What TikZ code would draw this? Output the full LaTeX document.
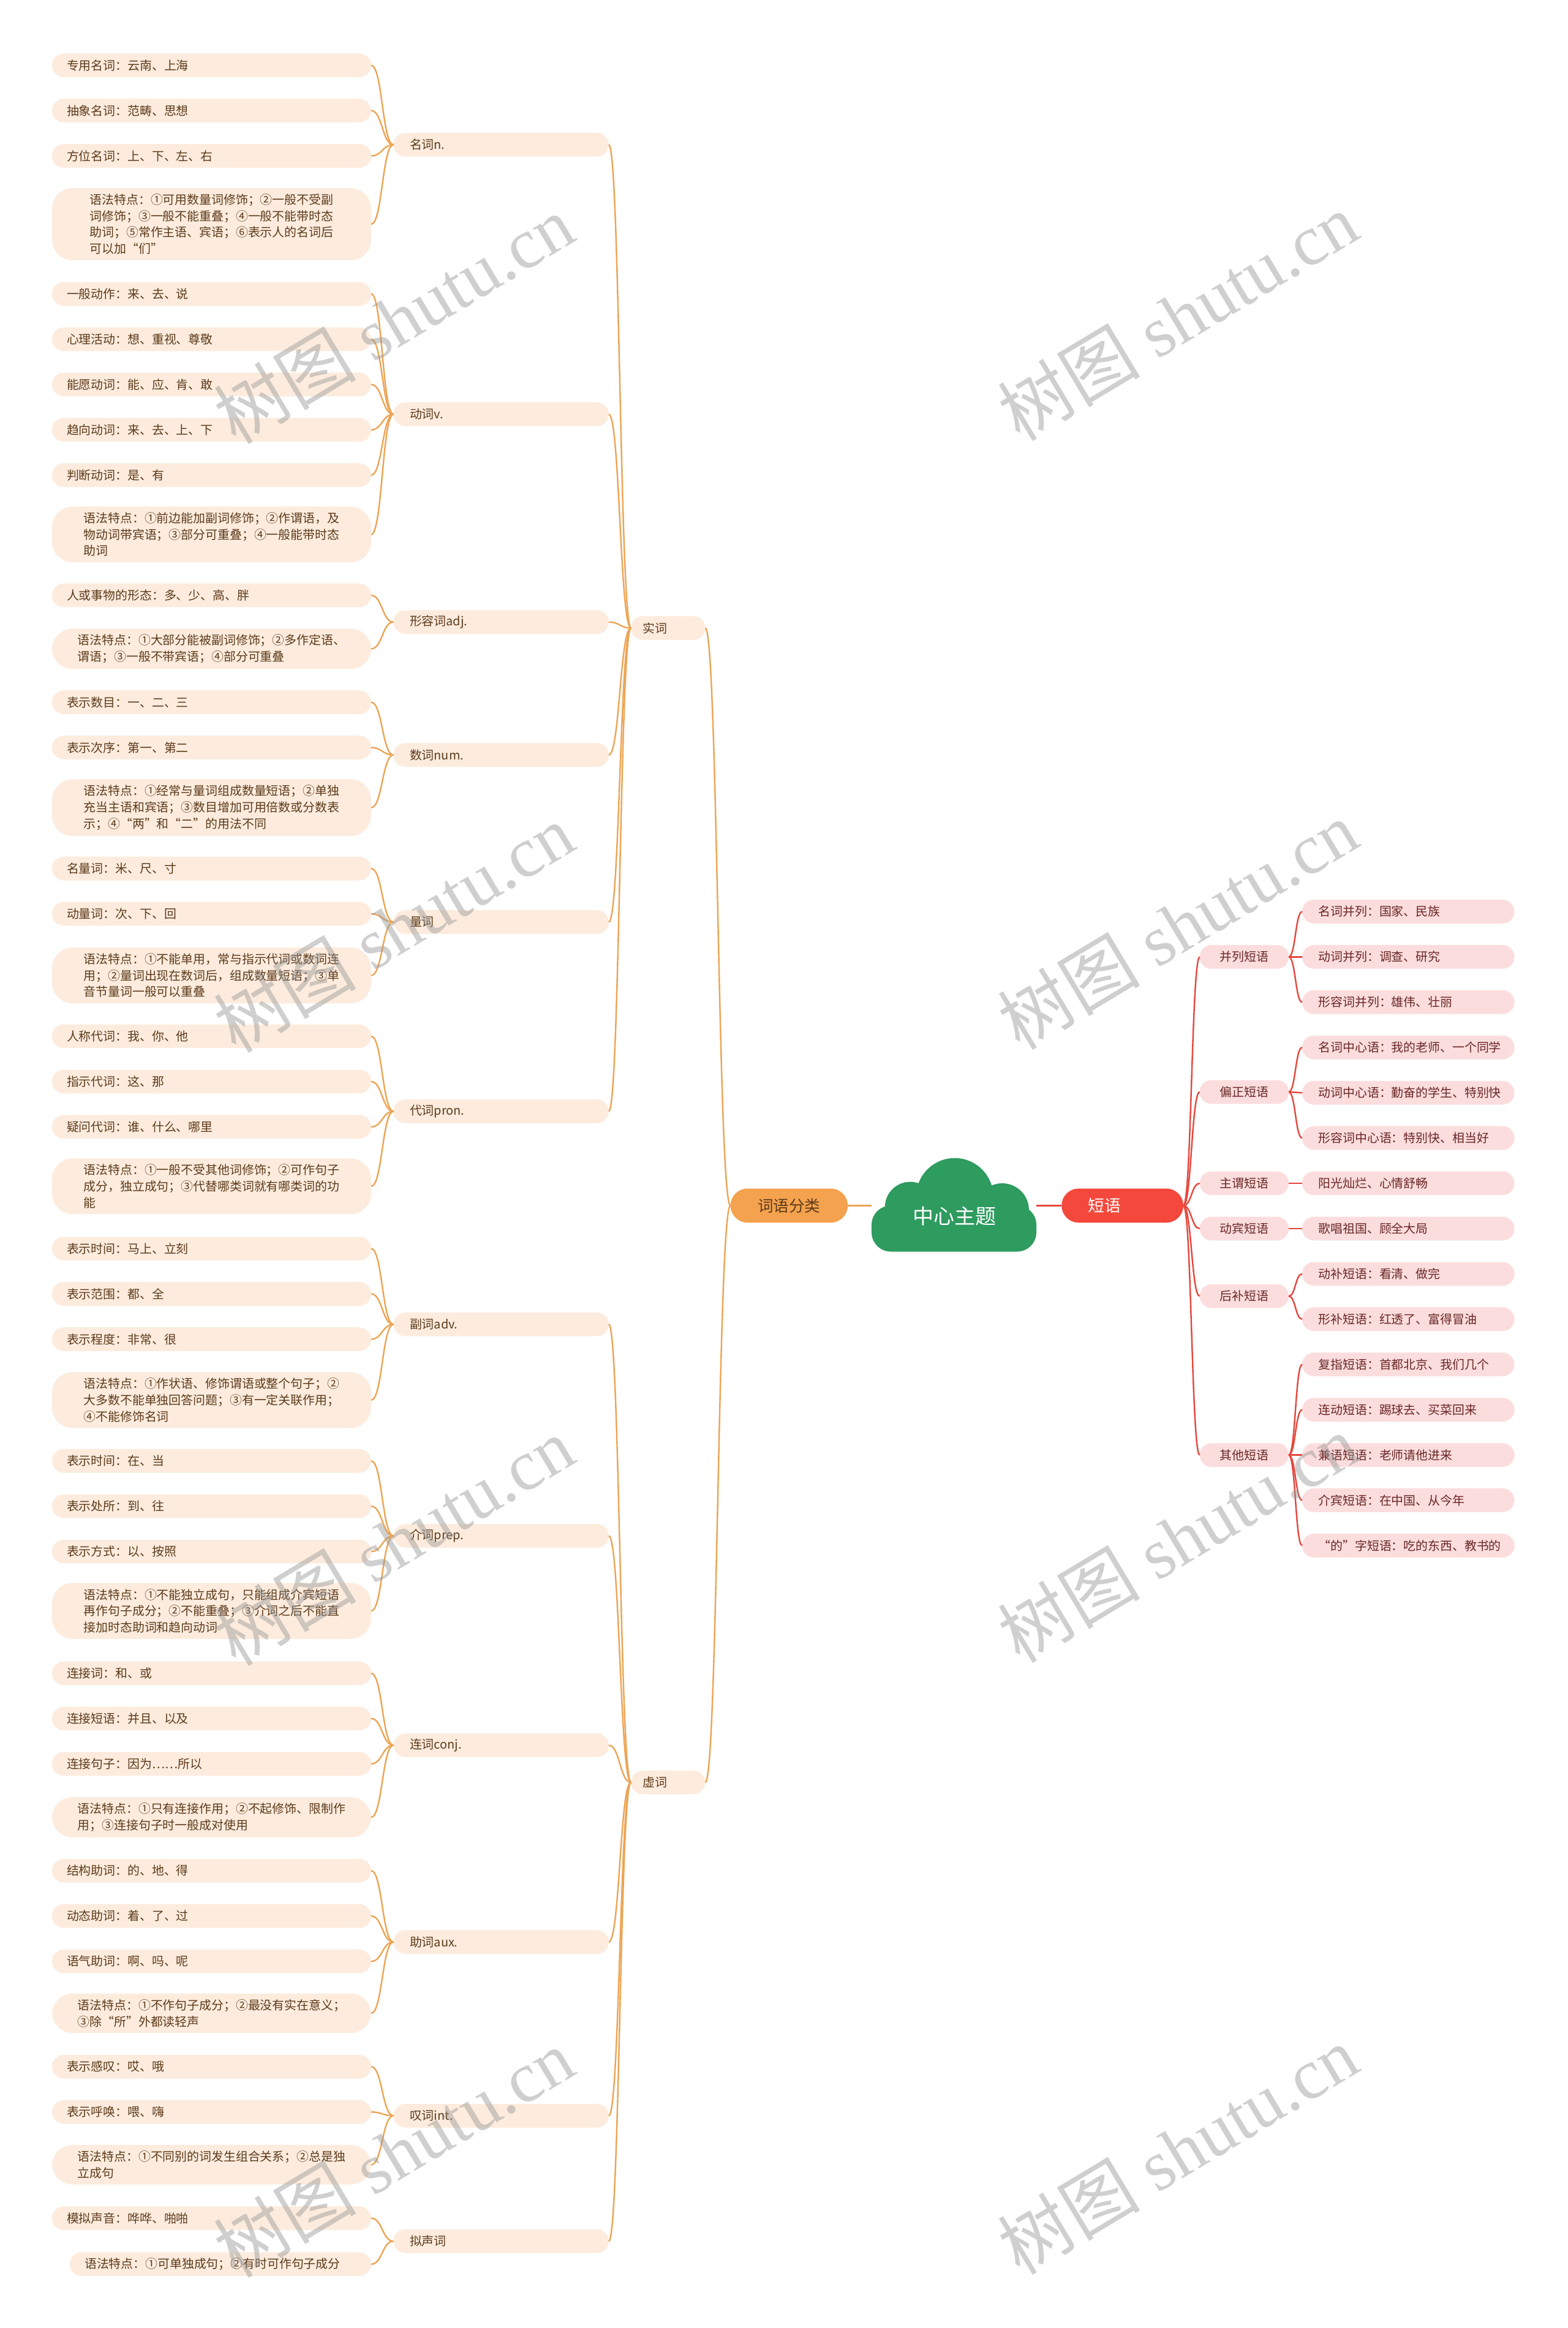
\documentclass[tikz,border=0pt]{standalone}
\usepackage{fontspec}
\setmainfont{Liberation Serif}
\newfontfamily\cjk{Noto Sans CJK SC}
\definecolor{peachF}{RGB}{253,236,222}
\definecolor{brownT}{RGB}{92,58,26}
\definecolor{orangeL}{RGB}{236,165,85}
\definecolor{orangeN}{RGB}{244,162,78}
\definecolor{greenC}{RGB}{46,155,95}
\definecolor{redN}{RGB}{244,72,60}
\definecolor{redL}{RGB}{228,72,62}
\definecolor{pinkF}{RGB}{252,221,221}
\definecolor{redT}{RGB}{105,38,38}
\definecolor{wmgray}{RGB}{150,150,150}
\begin{document}
\begin{tikzpicture}[x=1pt,y=-1pt,
  base/.style={font=\cjk\fontsize{8.2}{11}\selectfont, inner ysep=0pt, outer sep=0pt},
  leafL/.style={base, fill=peachF, text=brownT, rounded corners=8pt, minimum height=16pt, inner xsep=10pt, text width=195pt, align=left},
  leafML/.style={base, fill=peachF, text=brownT, rounded corners=14pt, minimum width=215pt, inner ysep=4pt, align=left},
  midL/.style={base, fill=peachF, text=brownT, rounded corners=8pt, minimum height=16pt, inner xsep=11pt, text width=123pt, align=left},
  topL/.style={base, fill=peachF, text=brownT, rounded corners=8pt, minimum height=16pt, inner xsep=8pt, text width=34pt, align=left},
  midR/.style={base, fill=pinkF, text=redT, rounded corners=8pt, minimum height=16pt, minimum width=60pt, inner xsep=0pt, align=center},
  leafR/.style={base, fill=pinkF, text=redT, rounded corners=8pt, minimum height=16pt, inner xsep=11pt, text width=121pt, align=left},
  lc/.style={draw=orangeL, line width=1pt},
  rc/.style={draw=redL, line width=1pt},
  wm/.style={rotate=31, text=wmgray, opacity=0.45, font=\fontsize{48}{54}\selectfont, inner sep=0pt}
]
\useasboundingbox (0,0) rectangle (1056,1568);
\fill[white] (0,0) rectangle (1056,1568);

% ---------------- left: 实词 ----------------
\node[leafL] (g1a) at (142.5,44) {专用名词：云南、上海};
\node[leafL] (g1b) at (142.5,74.5) {抽象名词：范畴、思想};
\node[leafL] (g1c) at (142.5,105) {方位名词：上、下、左、右};
\node[leafML] (g1d) at (142.5,151) {语法特点：①可用数量词修饰；②一般不受副\\词修饰；③一般不能重叠；④一般不能带时态\\助词；⑤常作主语、宾语；⑥表示人的名词后\\可以加“们”};
\node[midL] (g1) at (337.5,97.5) {名词n.};

\node[leafL] (g2a) at (142.5,198) {一般动作：来、去、说};
\node[leafL] (g2b) at (142.5,228.5) {心理活动：想、重视、尊敬};
\node[leafL] (g2c) at (142.5,259) {能愿动词：能、应、肯、敢};
\node[leafL] (g2d) at (142.5,289.5) {趋向动词：来、去、上、下};
\node[leafL] (g2e) at (142.5,320) {判断动词：是、有};
\node[leafML] (g2f) at (142.5,360) {语法特点：①前边能加副词修饰；②作谓语，及\\物动词带宾语；③部分可重叠；④一般能带时态\\助词};
\node[midL] (g2) at (337.5,279) {动词v.};

\node[leafL] (g3a) at (142.5,401) {人或事物的形态：多、少、高、胖};
\node[leafML] (g3b) at (142.5,437) {语法特点：①大部分能被副词修饰；②多作定语、\\谓语；③一般不带宾语；④部分可重叠};
\node[midL] (g3) at (337.5,419) {形容词adj.};

\node[leafL] (g4a) at (142.5,473) {表示数目：一、二、三};
\node[leafL] (g4b) at (142.5,503.5) {表示次序：第一、第二};
\node[leafML] (g4c) at (142.5,544) {语法特点：①经常与量词组成数量短语；②单独\\充当主语和宾语；③数目增加可用倍数或分数表\\示；④“两”和“二”的用法不同};
\node[midL] (g4) at (337.5,508.5) {数词num.};

\node[leafL] (g5a) at (142.5,585) {名量词：米、尺、寸};
\node[leafL] (g5b) at (142.5,615.5) {动量词：次、下、回};
\node[leafML] (g5c) at (142.5,657) {语法特点：①不能单用，常与指示代词或数词连\\用；②量词出现在数词后，组成数量短语；③单\\音节量词一般可以重叠};
\node[midL] (g5) at (337.5,621) {量词};

\node[leafL] (g6a) at (142.5,698) {人称代词：我、你、他};
\node[leafL] (g6b) at (142.5,728.5) {指示代词：这、那};
\node[leafL] (g6c) at (142.5,759) {疑问代词：谁、什么、哪里};
\node[leafML] (g6d) at (142.5,799) {语法特点：①一般不受其他词修饰；②可作句子\\成分，独立成句；③代替哪类词就有哪类词的功\\能};
\node[midL] (g6) at (337.5,748.5) {代词pron.};

\node[topL] (sc) at (450,423) {实词};

% ---------------- left: 虚词 ----------------
\node[leafL] (g7a) at (142.5,841) {表示时间：马上、立刻};
\node[leafL] (g7b) at (142.5,871.5) {表示范围：都、全};
\node[leafL] (g7c) at (142.5,902) {表示程度：非常、很};
\node[leafML] (g7d) at (142.5,943) {语法特点：①作状语、修饰谓语或整个句子；②\\大多数不能单独回答问题；③有一定关联作用；\\④不能修饰名词};
\node[midL] (g7) at (337.5,892) {副词adv.};

\node[leafL] (g8a) at (142.5,984) {表示时间：在、当};
\node[leafL] (g8b) at (142.5,1014.5) {表示处所：到、往};
\node[leafL] (g8c) at (142.5,1045) {表示方式：以、按照};
\node[leafML] (g8d) at (142.5,1085) {语法特点：①不能独立成句，只能组成介宾短语\\再作句子成分；②不能重叠；③介词之后不能直\\接加时态助词和趋向动词};
\node[midL] (g8) at (337.5,1034.5) {介词prep.};

\node[leafL] (g9a) at (142.5,1127) {连接词：和、或};
\node[leafL] (g9b) at (142.5,1157.5) {连接短语：并且、以及};
\node[leafL] (g9c) at (142.5,1188) {连接句子：因为……所以};
\node[leafML] (g9d) at (142.5,1224) {语法特点：①只有连接作用；②不起修饰、限制作\\用；③连接句子时一般成对使用};
\node[midL] (g9) at (337.5,1175.5) {连词conj.};

\node[leafL] (g10a) at (142.5,1260) {结构助词：的、地、得};
\node[leafL] (g10b) at (142.5,1290.5) {动态助词：着、了、过};
\node[leafL] (g10c) at (142.5,1321) {语气助词：啊、吗、呢};
\node[leafML] (g10d) at (142.5,1356) {语法特点：①不作句子成分；②最没有实在意义；\\③除“所”外都读轻声};
\node[midL] (g10) at (337.5,1308) {助词aux.};

\node[leafL] (g11a) at (142.5,1392) {表示感叹：哎、哦};
\node[leafL] (g11b) at (142.5,1422.5) {表示呼唤：喂、嗨};
\node[leafML] (g11c) at (142.5,1458) {语法特点：①不同别的词发生组合关系；②总是独\\立成句};
\node[midL] (g11) at (337.5,1425) {叹词int.};

\node[leafL] (g12a) at (142.5,1494) {模拟声音：哗哗、啪啪};
\node[leafL, text width=183pt] (g12b) at (148.5,1525) {语法特点：①可单独成句；②有时可作句子成分};
\node[midL] (g12) at (337.5,1509.5) {拟声词};

\node[topL] (xc) at (450,1200.5) {虚词};

% ---------------- center ----------------
\node[base, fill=orangeN, text=brownT, rounded corners=11.5pt, minimum width=79pt, minimum height=23pt, font=\cjk\fontsize{10.5}{12}\selectfont] (wf) at (531.5,812) {词语分类};

\fill[greenC, rounded corners=13pt] (587,812) rectangle (698,843);
\fill[greenC] (643,806) circle (26);
\fill[greenC] (613,813) circle (17);
\fill[greenC] (675,815) circle (18);
\node[base, text=white, font=\cjk\fontsize{14}{16}\selectfont] (ct) at (643,819) {中心主题};
\coordinate (cL) at (587,812);
\coordinate (cR) at (698,812);

\node[base, fill=redN, text=white, rounded corners=11.5pt, minimum height=23pt, inner xsep=18pt, text width=46pt, align=left, font=\cjk\fontsize{11}{13}\selectfont] (dy) at (756,812) {短语};

% ---------------- right ----------------
\node[midR] (r1) at (838,644.5) {并列短语};
\node[leafR] (r1a) at (948.5,614) {名词并列：国家、民族};
\node[leafR] (r1b) at (948.5,644.5) {动词并列：调查、研究};
\node[leafR] (r1c) at (948.5,675) {形容词并列：雄伟、壮丽};

\node[midR] (r2) at (838,735.5) {偏正短语};
\node[leafR] (r2a) at (948.5,705.5) {名词中心语：我的老师、一个同学};
\node[leafR] (r2b) at (948.5,736) {动词中心语：勤奋的学生、特别快};
\node[leafR] (r2c) at (948.5,766.5) {形容词中心语：特别快、相当好};

\node[midR] (r3) at (838,797) {主谓短语};
\node[leafR] (r3a) at (948.5,797) {阳光灿烂、心情舒畅};

\node[midR] (r4) at (838,827.5) {动宾短语};
\node[leafR] (r4a) at (948.5,827.5) {歌唱祖国、顾全大局};

\node[midR] (r5) at (838,873) {后补短语};
\node[leafR] (r5a) at (948.5,858) {动补短语：看清、做完};
\node[leafR] (r5b) at (948.5,888.5) {形补短语：红透了、富得冒油};

\node[midR] (r6) at (838,980) {其他短语};
\node[leafR] (r6a) at (948.5,919) {复指短语：首都北京、我们几个};
\node[leafR] (r6b) at (948.5,949.5) {连动短语：踢球去、买菜回来};
\node[leafR] (r6c) at (948.5,980) {兼语短语：老师请他进来};
\node[leafR] (r6d) at (948.5,1010.5) {介宾短语：在中国、从今年};
\node[leafR] (r6e) at (948.5,1041) {“的”字短语：吃的东西、教书的};

% ---------------- connectors ----------------
\foreach \p/\c in {g1/g1a,g1/g1b,g1/g1c,g1/g1d,
  g2/g2a,g2/g2b,g2/g2c,g2/g2d,g2/g2e,g2/g2f,
  g3/g3a,g3/g3b, g4/g4a,g4/g4b,g4/g4c, g5/g5a,g5/g5b,g5/g5c,
  g6/g6a,g6/g6b,g6/g6c,g6/g6d,
  g7/g7a,g7/g7b,g7/g7c,g7/g7d, g8/g8a,g8/g8b,g8/g8c,g8/g8d,
  g9/g9a,g9/g9b,g9/g9c,g9/g9d, g10/g10a,g10/g10b,g10/g10c,g10/g10d,
  g11/g11a,g11/g11b,g11/g11c, g12/g12a,g12/g12b,
  sc/g1,sc/g2,sc/g3,sc/g4,sc/g5,sc/g6,
  xc/g7,xc/g8,xc/g9,xc/g10,xc/g11,xc/g12}
  \draw[lc] (\c.east) .. controls +(7.5,0) and +(-7.5,0) .. (\p.west);
\foreach \c in {sc,xc}
  \draw[lc] (\c.east) .. controls +(8.5,0) and +(-8.5,0) .. (wf.west);
\draw[lc] (wf.east) -- (cL);
\draw[rc] (cR) -- (dy.west);
\foreach \c in {r1,r2,r3,r4,r5,r6}
  \draw[rc] (dy.east) .. controls +(5.5,0) and +(-5.5,0) .. (\c.west);
\foreach \p/\c in {r1/r1a,r1/r1b,r1/r1c,r2/r2a,r2/r2b,r2/r2c,r3/r3a,r4/r4a,
  r5/r5a,r5/r5b,r6/r6a,r6/r6b,r6/r6c,r6/r6d,r6/r6e}
  \draw[rc] (\p.east) .. controls +(4.5,0) and +(-4.5,0) .. (\c.west);

% ---------------- watermarks ----------------
\node[wm] (wm1) at (265,215) {{\cjk 树图} shutu.cn};
\node[wm] (wm2) at (793,213) {{\cjk 树图} shutu.cn};
\node[wm] (wm3) at (265,625) {{\cjk 树图} shutu.cn};
\node[wm] (wm4) at (793,623) {{\cjk 树图} shutu.cn};
\node[wm] (wm5) at (265,1038) {{\cjk 树图} shutu.cn};
\node[wm] (wm6) at (793,1036) {{\cjk 树图} shutu.cn};
\node[wm] (wm7) at (265,1450) {{\cjk 树图} shutu.cn};
\node[wm] (wm8) at (793,1448) {{\cjk 树图} shutu.cn};
\end{tikzpicture}
\end{document}
